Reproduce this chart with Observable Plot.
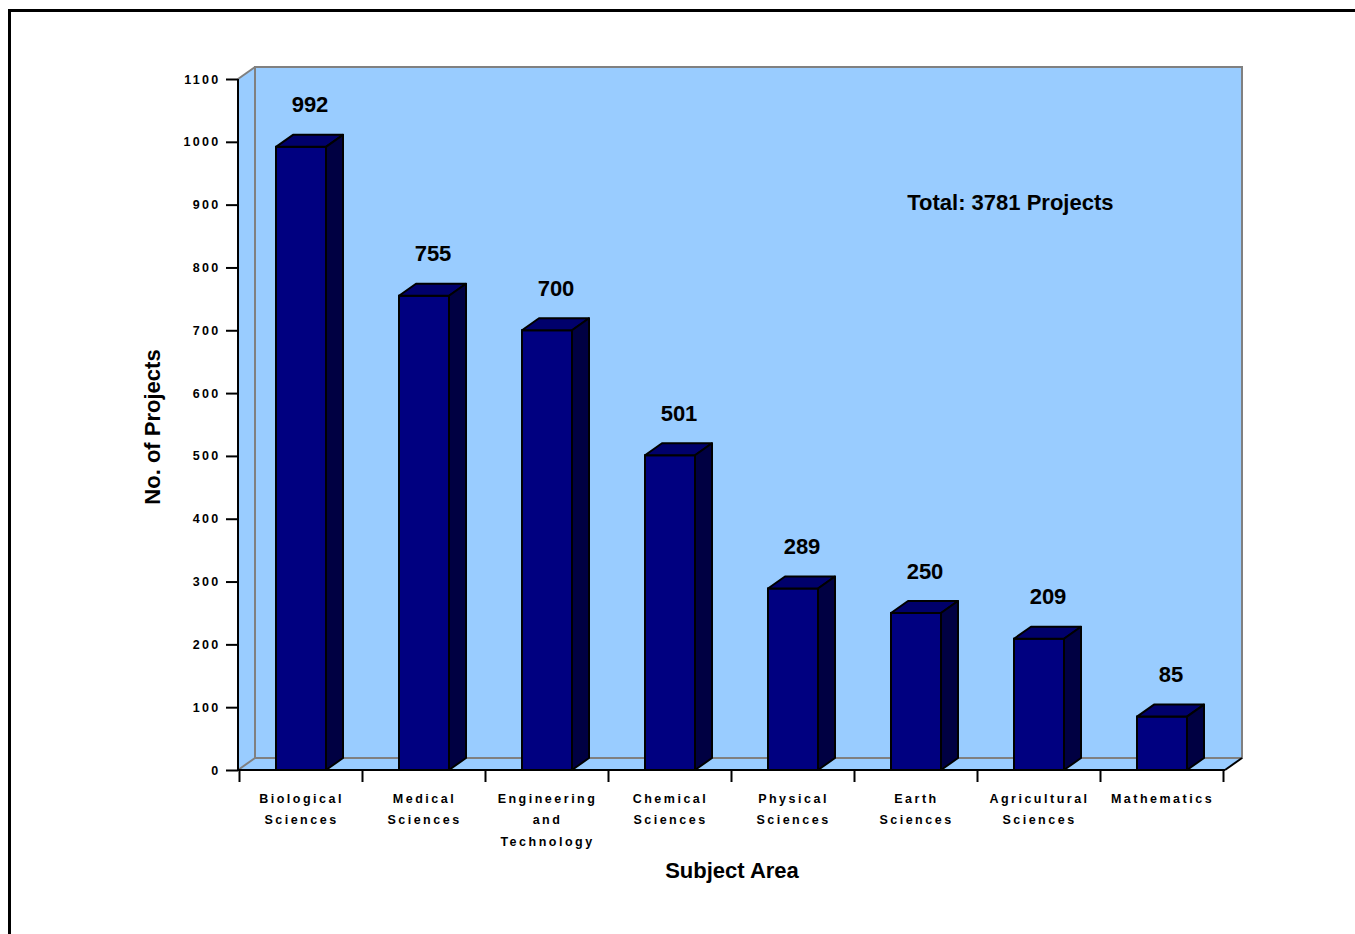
<!DOCTYPE html>
<html><head><meta charset="utf-8">
<script src="https://cdn.jsdelivr.net/npm/d3@7"></script>
<script src="https://cdn.jsdelivr.net/npm/@observablehq/plot@0.6"></script>
<style>
html,body{margin:0;padding:0;background:#fff;}
#wrap{position:relative;width:1355px;height:934px;overflow:hidden;}
#border{position:absolute;left:8px;top:9px;right:-10px;bottom:-10px;border-top:3px solid #000;border-left:3px solid #000;}
#chart{position:absolute;left:0;top:0;}
g[aria-label="y-axis tick label"] text{font-size:12.5px;letter-spacing:2.3px;}
g[aria-label="x-axis tick label"] text{font-size:12.5px;letter-spacing:2.5px;}
</style></head><body>
<div id="wrap"><div id="border"></div><div id="chart"></div></div>
<script>
const categories = ["Biological Sciences","Medical Sciences","Engineering and Technology","Chemical Sciences","Physical Sciences","Earth Sciences","Agricultural Sciences","Mathematics"];
const tickLabels = ["Biological\nSciences","Medical\nSciences","Engineering\nand\nTechnology","Chemical\nSciences","Physical\nSciences","Earth\nSciences","Agricultural\nSciences","Mathematics"];
const values = [992,755,700,501,289,250,209,85];
const yTicks = [0,100,200,300,400,500,600,700,800,900,1000,1100];
const yMax = 1100;
const totalNote = "Total: 3781 Projects";
const xTitle = "Subject Area";
const yTitle = "No. of Projects";

const data = categories.map((c,i)=>({cat:c, value:values[i]}));
const labelOf = new Map(categories.map((c,i)=>[c,tickLabels[i]]));

const DX = 17, DY = -12;
const WALL = "#99CCFF", EDGE = "#808080";
const FRONT = "#000080", TOP = "#00006B", SIDE = "#000042";
const PADI = 0.59;

function geom(scales){
  const x = scales.x, y = scales.y;
  const step = x(categories[1]) - x(categories[0]);
  const bw = typeof x.bandwidth === "function" ? x.bandwidth() : step*(1-PADI);
  return {x, y, step, bw};
}

function walls(index, scales, vals, dim){
  const {y} = geom(scales);
  const x0 = dim.marginLeft, x1 = dim.width - dim.marginRight;
  const yb = y(0), yt = y(yMax);
  const g = d3.create("svg:g");
  g.append("path").attr("d", `M${x0},${yb}L${x0},${yt}L${x0+DX},${yt+DY}L${x0+DX},${yb+DY}Z`).attr("fill", WALL);
  g.append("path").attr("d", `M${x0},${yb}L${x0+DX},${yb+DY}L${x1+DX},${yb+DY}L${x1},${yb}Z`).attr("fill", WALL);
  g.append("rect").attr("x", x0+DX).attr("y", yt+DY).attr("width", x1-x0).attr("height", yb-yt)
    .attr("fill", WALL).attr("stroke", EDGE).attr("stroke-width", 2);
  g.append("line").attr("x1", x0).attr("y1", yt).attr("x2", x0+DX).attr("y2", yt+DY).attr("stroke", EDGE).attr("stroke-width", 2);
  g.append("line").attr("x1", x0).attr("y1", yb).attr("x2", x0+DX).attr("y2", yb+DY).attr("stroke", EDGE).attr("stroke-width", 2);
  return g.node();
}

function axesLines(index, scales, vals, dim){
  const {x, y, step, bw} = geom(scales);
  const x0 = dim.marginLeft, x1 = dim.width - dim.marginRight;
  const yb = y(0), yt = y(yMax);
  const g = d3.create("svg:g").attr("stroke", "#000").attr("stroke-width", 2).attr("fill", "none");
  g.append("line").attr("x1", x0).attr("y1", yt).attr("x2", x0).attr("y2", yb);
  g.append("line").attr("x1", x0).attr("y1", yb).attr("x2", x1).attr("y2", yb);
  g.append("line").attr("x1", x1).attr("y1", yb).attr("x2", x1+DX).attr("y2", yb+DY);
  const bounds = categories.map(c => x(c) + bw/2 - step/2);
  bounds.push(x(categories[categories.length-1]) + bw/2 + step/2);
  for (const b of bounds) g.append("line").attr("x1", b).attr("y1", yb).attr("x2", b).attr("y2", yb+12);
  return g.node();
}

function bars3d(index, scales){
  const {x, y, bw} = geom(scales);
  const yb = y(0);
  const g = d3.create("svg:g").attr("stroke", "#000").attr("stroke-width", 2).attr("stroke-linejoin", "round");
  for (const d of data){
    const a = x(d.cat), b = a + bw, t = y(d.value);
    g.append("path").attr("fill", TOP).attr("d", `M${a},${t}L${a+DX},${t+DY}L${b+DX},${t+DY}L${b},${t}Z`);
    g.append("path").attr("fill", SIDE).attr("d", `M${b},${t}L${b+DX},${t+DY}L${b+DX},${yb+DY}L${b},${yb}Z`);
  }
  return g.node();
}

const plot = Plot.plot({
  width: 1355, height: 934,
  marginLeft: 238, marginRight: 130, marginTop: 79, marginBottom: 164,
  style: {fontFamily: "'Liberation Sans', Arial, sans-serif", fontWeight: "bold", background: "transparent", color: "#000"},
  x: {domain: categories, paddingInner: PADI, paddingOuter: PADI/2, label: null},
  y: {domain: [0, yMax], label: null},
  marks: [
    walls,
    Plot.barY(data, {x: "cat", y: "value", fill: FRONT, stroke: "#000", strokeWidth: 2}),
    bars3d,
    axesLines,
    Plot.axisY({ticks: yTicks, tickSize: 12, tickPadding: 6, strokeWidth: 2, label: null, tickFormat: d => String(d)}),
    Plot.axisX({tickSize: 0, tickPadding: 17, tickFormat: c => labelOf.get(c), lineHeight: 1.72, label: null, dx: 0}),
    Plot.text(data, {x: "cat", y: "value", text: d => String(d.value), dx: DX/2, dy: -42, fontSize: 22, fontWeight: "bold"}),
    Plot.text([totalNote], {text: d => d, frameAnchor: "top-right", textAnchor: "end", lineAnchor: "middle", dx: -112, dy: 123, fontSize: 22, fontWeight: "bold"}),
    Plot.text([xTitle], {text: d => d, frameAnchor: "bottom", lineAnchor: "middle", dy: 100, fontSize: 22, fontWeight: "bold"}),
    Plot.text([yTitle], {text: d => d, frameAnchor: "left", textAnchor: "middle", lineAnchor: "middle", dx: -86, dy: 2, rotate: -90, fontSize: 22, fontWeight: "bold"})
  ]
});
document.getElementById("chart").appendChild(plot);
</script>
</body></html>
